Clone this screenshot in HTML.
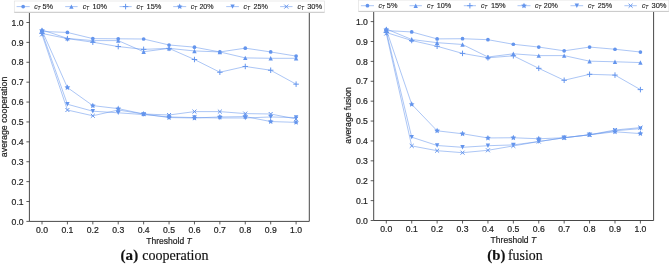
<!DOCTYPE html>
<html><head><meta charset="utf-8"><style>
html,body{margin:0;padding:0;background:#fff;width:669px;height:264px;overflow:hidden;font-family:"Liberation Sans",sans-serif;}
svg{display:block;will-change:transform;}
</style></head><body>
<svg width="669" height="264" viewBox="0 0 669 264"><rect width="669" height="264" fill="#fff"/><g transform="translate(0,0)">
<path d="M29.4 12.5V221.4H309.3V12.5" fill="none" stroke="#333" stroke-width="0.9"/>
<path d="M42.00 221.4v3.0M29.4 221.40h-3.0M67.41 221.4v3.0M29.4 201.51h-3.0M92.82 221.4v3.0M29.4 181.62h-3.0M118.23 221.4v3.0M29.4 161.73h-3.0M143.64 221.4v3.0M29.4 141.84h-3.0M169.05 221.4v3.0M29.4 121.95h-3.0M194.46 221.4v3.0M29.4 102.06h-3.0M219.87 221.4v3.0M29.4 82.17h-3.0M245.28 221.4v3.0M29.4 62.28h-3.0M270.69 221.4v3.0M29.4 42.39h-3.0M296.10 221.4v3.0M29.4 22.50h-3.0" stroke="#333" stroke-width="0.8" fill="none"/>
<g font-family="Liberation Sans, sans-serif" font-size="8.7" fill="#222" stroke="#222" stroke-width="0.2">
<text x="42.00" y="232.70" text-anchor="middle" textLength="12" lengthAdjust="spacingAndGlyphs">0.0</text>
<text x="23.60" y="224.55" text-anchor="end" textLength="12" lengthAdjust="spacingAndGlyphs">0.0</text>
<text x="67.41" y="232.70" text-anchor="middle" textLength="12" lengthAdjust="spacingAndGlyphs">0.1</text>
<text x="23.60" y="204.66" text-anchor="end" textLength="12" lengthAdjust="spacingAndGlyphs">0.1</text>
<text x="92.82" y="232.70" text-anchor="middle" textLength="12" lengthAdjust="spacingAndGlyphs">0.2</text>
<text x="23.60" y="184.77" text-anchor="end" textLength="12" lengthAdjust="spacingAndGlyphs">0.2</text>
<text x="118.23" y="232.70" text-anchor="middle" textLength="12" lengthAdjust="spacingAndGlyphs">0.3</text>
<text x="23.60" y="164.88" text-anchor="end" textLength="12" lengthAdjust="spacingAndGlyphs">0.3</text>
<text x="143.64" y="232.70" text-anchor="middle" textLength="12" lengthAdjust="spacingAndGlyphs">0.4</text>
<text x="23.60" y="144.99" text-anchor="end" textLength="12" lengthAdjust="spacingAndGlyphs">0.4</text>
<text x="169.05" y="232.70" text-anchor="middle" textLength="12" lengthAdjust="spacingAndGlyphs">0.5</text>
<text x="23.60" y="125.10" text-anchor="end" textLength="12" lengthAdjust="spacingAndGlyphs">0.5</text>
<text x="194.46" y="232.70" text-anchor="middle" textLength="12" lengthAdjust="spacingAndGlyphs">0.6</text>
<text x="23.60" y="105.21" text-anchor="end" textLength="12" lengthAdjust="spacingAndGlyphs">0.6</text>
<text x="219.87" y="232.70" text-anchor="middle" textLength="12" lengthAdjust="spacingAndGlyphs">0.7</text>
<text x="23.60" y="85.32" text-anchor="end" textLength="12" lengthAdjust="spacingAndGlyphs">0.7</text>
<text x="245.28" y="232.70" text-anchor="middle" textLength="12" lengthAdjust="spacingAndGlyphs">0.8</text>
<text x="23.60" y="65.43" text-anchor="end" textLength="12" lengthAdjust="spacingAndGlyphs">0.8</text>
<text x="270.69" y="232.70" text-anchor="middle" textLength="12" lengthAdjust="spacingAndGlyphs">0.9</text>
<text x="23.60" y="45.54" text-anchor="end" textLength="12" lengthAdjust="spacingAndGlyphs">0.9</text>
<text x="296.10" y="232.70" text-anchor="middle" textLength="12" lengthAdjust="spacingAndGlyphs">1.0</text>
<text x="23.60" y="25.65" text-anchor="end" textLength="12" lengthAdjust="spacingAndGlyphs">1.0</text>
</g>
<text x="169.05" y="243.8" text-anchor="middle" font-family="Liberation Sans, sans-serif" font-size="8.6" fill="#222" stroke="#222" stroke-width="0.2" textLength="45.5" lengthAdjust="spacingAndGlyphs">Threshold <tspan font-style="italic">T</tspan></text>
<text transform="translate(6.85,116.9) rotate(-90)" text-anchor="middle" font-family="Liberation Sans, sans-serif" font-size="8.4" fill="#222" stroke="#222" stroke-width="0.2" textLength="80.5" lengthAdjust="spacingAndGlyphs">average cooperation</text>
<polyline points="42.00,31.45 67.41,32.45 92.82,38.61 118.23,38.81 143.64,39.01 169.05,44.98 194.46,47.16 219.87,51.94 245.28,48.16 270.69,51.94 296.10,56.11" fill="none" stroke="#6495ed" stroke-width="0.9" stroke-opacity="0.6"/>
<circle cx="42.00" cy="31.45" r="1.85" fill="#6495ed"/>
<circle cx="67.41" cy="32.45" r="1.85" fill="#6495ed"/>
<circle cx="92.82" cy="38.61" r="1.85" fill="#6495ed"/>
<circle cx="118.23" cy="38.81" r="1.85" fill="#6495ed"/>
<circle cx="143.64" cy="39.01" r="1.85" fill="#6495ed"/>
<circle cx="169.05" cy="44.98" r="1.85" fill="#6495ed"/>
<circle cx="194.46" cy="47.16" r="1.85" fill="#6495ed"/>
<circle cx="219.87" cy="51.94" r="1.85" fill="#6495ed"/>
<circle cx="245.28" cy="48.16" r="1.85" fill="#6495ed"/>
<circle cx="270.69" cy="51.94" r="1.85" fill="#6495ed"/>
<circle cx="296.10" cy="56.11" r="1.85" fill="#6495ed"/>
<polyline points="42.00,29.86 67.41,38.41 92.82,40.60 118.23,40.60 143.64,51.74 169.05,48.36 194.46,50.94 219.87,51.94 245.28,57.90 270.69,58.30 296.10,58.30" fill="none" stroke="#6495ed" stroke-width="0.9" stroke-opacity="0.6"/>
<path d="M42.00 27.66L39.80 32.06L44.20 32.06Z" fill="#6495ed"/>
<path d="M67.41 36.21L65.21 40.61L69.61 40.61Z" fill="#6495ed"/>
<path d="M92.82 38.40L90.62 42.80L95.02 42.80Z" fill="#6495ed"/>
<path d="M118.23 38.40L116.03 42.80L120.43 42.80Z" fill="#6495ed"/>
<path d="M143.64 49.54L141.44 53.94L145.84 53.94Z" fill="#6495ed"/>
<path d="M169.05 46.16L166.85 50.56L171.25 50.56Z" fill="#6495ed"/>
<path d="M194.46 48.74L192.26 53.14L196.66 53.14Z" fill="#6495ed"/>
<path d="M219.87 49.74L217.67 54.14L222.07 54.14Z" fill="#6495ed"/>
<path d="M245.28 55.70L243.08 60.10L247.48 60.10Z" fill="#6495ed"/>
<path d="M270.69 56.10L268.49 60.50L272.89 60.50Z" fill="#6495ed"/>
<path d="M296.10 56.10L293.90 60.50L298.30 60.50Z" fill="#6495ed"/>
<polyline points="42.00,33.44 67.41,38.61 92.82,42.19 118.23,46.57 143.64,49.35 169.05,48.36 194.46,59.50 219.87,72.22 245.28,66.46 270.69,70.24 296.10,84.16" fill="none" stroke="#6495ed" stroke-width="0.9" stroke-opacity="0.6"/>
<path d="M39.25 33.44H44.75M42.00 30.69V36.19" stroke="#6495ed" stroke-width="1" fill="none"/>
<path d="M64.66 38.61H70.16M67.41 35.86V41.36" stroke="#6495ed" stroke-width="1" fill="none"/>
<path d="M90.07 42.19H95.57M92.82 39.44V44.94" stroke="#6495ed" stroke-width="1" fill="none"/>
<path d="M115.48 46.57H120.98M118.23 43.82V49.32" stroke="#6495ed" stroke-width="1" fill="none"/>
<path d="M140.89 49.35H146.39M143.64 46.60V52.10" stroke="#6495ed" stroke-width="1" fill="none"/>
<path d="M166.30 48.36H171.80M169.05 45.61V51.11" stroke="#6495ed" stroke-width="1" fill="none"/>
<path d="M191.71 59.50H197.21M194.46 56.75V62.25" stroke="#6495ed" stroke-width="1" fill="none"/>
<path d="M217.12 72.22H222.62M219.87 69.47V74.97" stroke="#6495ed" stroke-width="1" fill="none"/>
<path d="M242.53 66.46H248.03M245.28 63.71V69.21" stroke="#6495ed" stroke-width="1" fill="none"/>
<path d="M267.94 70.24H273.44M270.69 67.49V72.99" stroke="#6495ed" stroke-width="1" fill="none"/>
<path d="M293.35 84.16H298.85M296.10 81.41V86.91" stroke="#6495ed" stroke-width="1" fill="none"/>
<polyline points="42.00,30.46 67.41,87.54 92.82,105.64 118.23,108.62 143.64,113.99 169.05,117.57 194.46,117.97 219.87,116.98 245.28,116.58 270.69,121.55 296.10,122.35" fill="none" stroke="#6495ed" stroke-width="0.9" stroke-opacity="0.6"/>
<path d="M42.00 27.46L42.88 29.24L44.85 29.53L43.43 30.92L43.76 32.88L42.00 31.96L40.24 32.88L40.57 30.92L39.15 29.53L41.12 29.24Z" fill="#6495ed"/>
<path d="M67.41 84.54L68.29 86.33L70.26 86.61L68.84 88.00L69.17 89.97L67.41 89.04L65.65 89.97L65.98 88.00L64.56 86.61L66.53 86.33Z" fill="#6495ed"/>
<path d="M92.82 102.64L93.70 104.43L95.67 104.71L94.25 106.10L94.58 108.07L92.82 107.14L91.06 108.07L91.39 106.10L89.97 104.71L91.94 104.43Z" fill="#6495ed"/>
<path d="M118.23 105.62L119.11 107.41L121.08 107.70L119.66 109.09L119.99 111.05L118.23 110.12L116.47 111.05L116.80 109.09L115.38 107.70L117.35 107.41Z" fill="#6495ed"/>
<path d="M143.64 110.99L144.52 112.78L146.49 113.07L145.07 114.46L145.40 116.42L143.64 115.49L141.88 116.42L142.21 114.46L140.79 113.07L142.76 112.78Z" fill="#6495ed"/>
<path d="M169.05 114.57L169.93 116.36L171.90 116.65L170.48 118.04L170.81 120.00L169.05 119.07L167.29 120.00L167.62 118.04L166.20 116.65L168.17 116.36Z" fill="#6495ed"/>
<path d="M194.46 114.97L195.34 116.76L197.31 117.04L195.89 118.44L196.22 120.40L194.46 119.47L192.70 120.40L193.03 118.44L191.61 117.04L193.58 116.76Z" fill="#6495ed"/>
<path d="M219.87 113.98L220.75 115.76L222.72 116.05L221.30 117.44L221.63 119.40L219.87 118.48L218.11 119.40L218.44 117.44L217.02 116.05L218.99 115.76Z" fill="#6495ed"/>
<path d="M245.28 113.58L246.16 115.37L248.13 115.65L246.71 117.04L247.04 119.01L245.28 118.08L243.52 119.01L243.85 117.04L242.43 115.65L244.40 115.37Z" fill="#6495ed"/>
<path d="M270.69 118.55L271.57 120.34L273.54 120.63L272.12 122.02L272.45 123.98L270.69 123.05L268.93 123.98L269.26 122.02L267.84 120.63L269.81 120.34Z" fill="#6495ed"/>
<path d="M296.10 119.35L296.98 121.13L298.95 121.42L297.53 122.81L297.86 124.77L296.10 123.85L294.34 124.77L294.67 122.81L293.25 121.42L295.22 121.13Z" fill="#6495ed"/>
<polyline points="42.00,32.45 67.41,104.25 92.82,111.21 118.23,112.80 143.64,114.59 169.05,116.98 194.46,117.57 219.87,117.97 245.28,117.97 270.69,116.98 296.10,117.57" fill="none" stroke="#6495ed" stroke-width="0.9" stroke-opacity="0.6"/>
<path d="M42.00 34.65L39.80 30.25L44.20 30.25Z" fill="#6495ed"/>
<path d="M67.41 106.45L65.21 102.05L69.61 102.05Z" fill="#6495ed"/>
<path d="M92.82 113.41L90.62 109.01L95.02 109.01Z" fill="#6495ed"/>
<path d="M118.23 115.00L116.03 110.60L120.43 110.60Z" fill="#6495ed"/>
<path d="M143.64 116.79L141.44 112.39L145.84 112.39Z" fill="#6495ed"/>
<path d="M169.05 119.18L166.85 114.78L171.25 114.78Z" fill="#6495ed"/>
<path d="M194.46 119.77L192.26 115.37L196.66 115.37Z" fill="#6495ed"/>
<path d="M219.87 120.17L217.67 115.77L222.07 115.77Z" fill="#6495ed"/>
<path d="M245.28 120.17L243.08 115.77L247.48 115.77Z" fill="#6495ed"/>
<path d="M270.69 119.18L268.49 114.78L272.89 114.78Z" fill="#6495ed"/>
<path d="M296.10 119.77L293.90 115.37L298.30 115.37Z" fill="#6495ed"/>
<polyline points="42.00,34.43 67.41,110.02 92.82,115.78 118.23,110.02 143.64,113.99 169.05,114.99 194.46,111.61 219.87,111.61 245.28,113.60 270.69,113.99 296.10,118.97" fill="none" stroke="#6495ed" stroke-width="0.9" stroke-opacity="0.6"/>
<path d="M40.02 32.45L43.98 36.41M40.02 36.41L43.98 32.45" stroke="#6495ed" stroke-width="1" fill="none"/>
<path d="M65.43 108.04L69.39 112.00M65.43 112.00L69.39 108.04" stroke="#6495ed" stroke-width="1" fill="none"/>
<path d="M90.84 113.80L94.80 117.76M90.84 117.76L94.80 113.80" stroke="#6495ed" stroke-width="1" fill="none"/>
<path d="M116.25 108.04L120.21 112.00M116.25 112.00L120.21 108.04" stroke="#6495ed" stroke-width="1" fill="none"/>
<path d="M141.66 112.01L145.62 115.97M141.66 115.97L145.62 112.01" stroke="#6495ed" stroke-width="1" fill="none"/>
<path d="M167.07 113.01L171.03 116.97M167.07 116.97L171.03 113.01" stroke="#6495ed" stroke-width="1" fill="none"/>
<path d="M192.48 109.63L196.44 113.59M192.48 113.59L196.44 109.63" stroke="#6495ed" stroke-width="1" fill="none"/>
<path d="M217.89 109.63L221.85 113.59M217.89 113.59L221.85 109.63" stroke="#6495ed" stroke-width="1" fill="none"/>
<path d="M243.30 111.62L247.26 115.58M243.30 115.58L247.26 111.62" stroke="#6495ed" stroke-width="1" fill="none"/>
<path d="M268.71 112.01L272.67 115.97M268.71 115.97L272.67 112.01" stroke="#6495ed" stroke-width="1" fill="none"/>
<path d="M294.12 116.99L298.08 120.95M294.12 120.95L298.08 116.99" stroke="#6495ed" stroke-width="1" fill="none"/>
<rect x="14.3" y="1.0" width="310.2" height="11.3" fill="#fff" fill-opacity="0.85" stroke="#e2e2e2" stroke-width="0.7"/>
<path d="M14.3 12.3H324.5" stroke="#c4c4c4" stroke-width="0.9"/>
<path d="M16.6 6.6H29.7" stroke="#6495ed" stroke-width="0.9" stroke-opacity="0.6"/>
<circle cx="23.15" cy="6.60" r="1.85" fill="#6495ed"/>
<text x="34.2" y="8.8" font-family="Liberation Sans, sans-serif" font-size="7.0" fill="#222" stroke="#222" stroke-width="0.12" font-style="italic">c</text>
<text x="37.50" y="9.5" font-family="Liberation Sans, sans-serif" font-size="4.9" fill="#222" stroke="#222" stroke-width="0.1" font-style="italic">T</text>
<text x="42.5" y="8.9" font-family="Liberation Sans, sans-serif" font-size="6.8" fill="#222" stroke="#222" stroke-width="0.12" textLength="10.6" lengthAdjust="spacingAndGlyphs">5%</text>
<path d="M65.2 6.6H77.6" stroke="#6495ed" stroke-width="0.9" stroke-opacity="0.6"/>
<path d="M71.40 4.40L69.20 8.80L73.60 8.80Z" fill="#6495ed"/>
<text x="82.8" y="8.8" font-family="Liberation Sans, sans-serif" font-size="7.0" fill="#222" stroke="#222" stroke-width="0.12" font-style="italic">c</text>
<text x="86.10" y="9.5" font-family="Liberation Sans, sans-serif" font-size="4.9" fill="#222" stroke="#222" stroke-width="0.1" font-style="italic">T</text>
<text x="92.4" y="8.9" font-family="Liberation Sans, sans-serif" font-size="6.8" fill="#222" stroke="#222" stroke-width="0.12" textLength="14.6" lengthAdjust="spacingAndGlyphs">10%</text>
<path d="M119.5 6.6H131.7" stroke="#6495ed" stroke-width="0.9" stroke-opacity="0.6"/>
<path d="M122.85 6.60H128.35M125.60 3.85V9.35" stroke="#6495ed" stroke-width="1" fill="none"/>
<text x="136.6" y="8.8" font-family="Liberation Sans, sans-serif" font-size="7.0" fill="#222" stroke="#222" stroke-width="0.12" font-style="italic">c</text>
<text x="139.90" y="9.5" font-family="Liberation Sans, sans-serif" font-size="4.9" fill="#222" stroke="#222" stroke-width="0.1" font-style="italic">T</text>
<text x="146.6" y="8.9" font-family="Liberation Sans, sans-serif" font-size="6.8" fill="#222" stroke="#222" stroke-width="0.12" textLength="14.8" lengthAdjust="spacingAndGlyphs">15%</text>
<path d="M173.2 6.6H186.2" stroke="#6495ed" stroke-width="0.9" stroke-opacity="0.6"/>
<path d="M179.70 3.60L180.58 5.39L182.55 5.67L181.13 7.06L181.46 9.03L179.70 8.10L177.94 9.03L178.27 7.06L176.85 5.67L178.82 5.39Z" fill="#6495ed"/>
<text x="190.7" y="8.8" font-family="Liberation Sans, sans-serif" font-size="7.0" fill="#222" stroke="#222" stroke-width="0.12" font-style="italic">c</text>
<text x="194.00" y="9.5" font-family="Liberation Sans, sans-serif" font-size="4.9" fill="#222" stroke="#222" stroke-width="0.1" font-style="italic">T</text>
<text x="199.4" y="8.9" font-family="Liberation Sans, sans-serif" font-size="6.8" fill="#222" stroke="#222" stroke-width="0.12" textLength="14.2" lengthAdjust="spacingAndGlyphs">20%</text>
<path d="M226.2 6.6H238.9" stroke="#6495ed" stroke-width="0.9" stroke-opacity="0.6"/>
<path d="M232.55 8.80L230.35 4.40L234.75 4.40Z" fill="#6495ed"/>
<text x="243.6" y="8.8" font-family="Liberation Sans, sans-serif" font-size="7.0" fill="#222" stroke="#222" stroke-width="0.12" font-style="italic">c</text>
<text x="246.90" y="9.5" font-family="Liberation Sans, sans-serif" font-size="4.9" fill="#222" stroke="#222" stroke-width="0.1" font-style="italic">T</text>
<text x="253.4" y="8.9" font-family="Liberation Sans, sans-serif" font-size="6.8" fill="#222" stroke="#222" stroke-width="0.12" textLength="14.4" lengthAdjust="spacingAndGlyphs">25%</text>
<path d="M280.1 6.6H292.5" stroke="#6495ed" stroke-width="0.9" stroke-opacity="0.6"/>
<path d="M284.32 4.62L288.28 8.58M284.32 8.58L288.28 4.62" stroke="#6495ed" stroke-width="1" fill="none"/>
<text x="297.6" y="8.8" font-family="Liberation Sans, sans-serif" font-size="7.0" fill="#222" stroke="#222" stroke-width="0.12" font-style="italic">c</text>
<text x="300.90" y="9.5" font-family="Liberation Sans, sans-serif" font-size="4.9" fill="#222" stroke="#222" stroke-width="0.1" font-style="italic">T</text>
<text x="307.2" y="8.9" font-family="Liberation Sans, sans-serif" font-size="6.8" fill="#222" stroke="#222" stroke-width="0.12" textLength="15.0" lengthAdjust="spacingAndGlyphs">30%</text>
</g><g transform="translate(344.3,-0.9)">
<path d="M29.4 12.5V221.4H309.3V12.5" fill="none" stroke="#333" stroke-width="0.9"/>
<path d="M42.00 221.4v3.0M29.4 221.40h-3.0M67.41 221.4v3.0M29.4 201.51h-3.0M92.82 221.4v3.0M29.4 181.62h-3.0M118.23 221.4v3.0M29.4 161.73h-3.0M143.64 221.4v3.0M29.4 141.84h-3.0M169.05 221.4v3.0M29.4 121.95h-3.0M194.46 221.4v3.0M29.4 102.06h-3.0M219.87 221.4v3.0M29.4 82.17h-3.0M245.28 221.4v3.0M29.4 62.28h-3.0M270.69 221.4v3.0M29.4 42.39h-3.0M296.10 221.4v3.0M29.4 22.50h-3.0" stroke="#333" stroke-width="0.8" fill="none"/>
<g font-family="Liberation Sans, sans-serif" font-size="8.7" fill="#222" stroke="#222" stroke-width="0.2">
<text x="42.00" y="232.70" text-anchor="middle" textLength="12" lengthAdjust="spacingAndGlyphs">0.0</text>
<text x="23.60" y="224.55" text-anchor="end" textLength="12" lengthAdjust="spacingAndGlyphs">0.0</text>
<text x="67.41" y="232.70" text-anchor="middle" textLength="12" lengthAdjust="spacingAndGlyphs">0.1</text>
<text x="23.60" y="204.66" text-anchor="end" textLength="12" lengthAdjust="spacingAndGlyphs">0.1</text>
<text x="92.82" y="232.70" text-anchor="middle" textLength="12" lengthAdjust="spacingAndGlyphs">0.2</text>
<text x="23.60" y="184.77" text-anchor="end" textLength="12" lengthAdjust="spacingAndGlyphs">0.2</text>
<text x="118.23" y="232.70" text-anchor="middle" textLength="12" lengthAdjust="spacingAndGlyphs">0.3</text>
<text x="23.60" y="164.88" text-anchor="end" textLength="12" lengthAdjust="spacingAndGlyphs">0.3</text>
<text x="143.64" y="232.70" text-anchor="middle" textLength="12" lengthAdjust="spacingAndGlyphs">0.4</text>
<text x="23.60" y="144.99" text-anchor="end" textLength="12" lengthAdjust="spacingAndGlyphs">0.4</text>
<text x="169.05" y="232.70" text-anchor="middle" textLength="12" lengthAdjust="spacingAndGlyphs">0.5</text>
<text x="23.60" y="125.10" text-anchor="end" textLength="12" lengthAdjust="spacingAndGlyphs">0.5</text>
<text x="194.46" y="232.70" text-anchor="middle" textLength="12" lengthAdjust="spacingAndGlyphs">0.6</text>
<text x="23.60" y="105.21" text-anchor="end" textLength="12" lengthAdjust="spacingAndGlyphs">0.6</text>
<text x="219.87" y="232.70" text-anchor="middle" textLength="12" lengthAdjust="spacingAndGlyphs">0.7</text>
<text x="23.60" y="85.32" text-anchor="end" textLength="12" lengthAdjust="spacingAndGlyphs">0.7</text>
<text x="245.28" y="232.70" text-anchor="middle" textLength="12" lengthAdjust="spacingAndGlyphs">0.8</text>
<text x="23.60" y="65.43" text-anchor="end" textLength="12" lengthAdjust="spacingAndGlyphs">0.8</text>
<text x="270.69" y="232.70" text-anchor="middle" textLength="12" lengthAdjust="spacingAndGlyphs">0.9</text>
<text x="23.60" y="45.54" text-anchor="end" textLength="12" lengthAdjust="spacingAndGlyphs">0.9</text>
<text x="296.10" y="232.70" text-anchor="middle" textLength="12" lengthAdjust="spacingAndGlyphs">1.0</text>
<text x="23.60" y="25.65" text-anchor="end" textLength="12" lengthAdjust="spacingAndGlyphs">1.0</text>
</g>
<text x="169.05" y="243.8" text-anchor="middle" font-family="Liberation Sans, sans-serif" font-size="8.6" fill="#222" stroke="#222" stroke-width="0.2" textLength="45.5" lengthAdjust="spacingAndGlyphs">Threshold <tspan font-style="italic">T</tspan></text>
<text transform="translate(6.4,116.3) rotate(-90)" text-anchor="middle" font-family="Liberation Sans, sans-serif" font-size="8.4" fill="#222" stroke="#222" stroke-width="0.2" textLength="56.5" lengthAdjust="spacingAndGlyphs">average fusion</text>
<polyline points="42.00,31.45 67.41,32.84 92.82,39.80 118.23,39.61 143.64,40.60 169.05,45.17 194.46,47.96 219.87,51.74 245.28,47.96 270.69,50.15 296.10,52.93" fill="none" stroke="#6495ed" stroke-width="0.9" stroke-opacity="0.6"/>
<circle cx="42.00" cy="31.45" r="1.85" fill="#6495ed"/>
<circle cx="67.41" cy="32.84" r="1.85" fill="#6495ed"/>
<circle cx="92.82" cy="39.80" r="1.85" fill="#6495ed"/>
<circle cx="118.23" cy="39.61" r="1.85" fill="#6495ed"/>
<circle cx="143.64" cy="40.60" r="1.85" fill="#6495ed"/>
<circle cx="169.05" cy="45.17" r="1.85" fill="#6495ed"/>
<circle cx="194.46" cy="47.96" r="1.85" fill="#6495ed"/>
<circle cx="219.87" cy="51.74" r="1.85" fill="#6495ed"/>
<circle cx="245.28" cy="47.96" r="1.85" fill="#6495ed"/>
<circle cx="270.69" cy="50.15" r="1.85" fill="#6495ed"/>
<circle cx="296.10" cy="52.93" r="1.85" fill="#6495ed"/>
<polyline points="42.00,29.86 67.41,40.40 92.82,43.58 118.23,45.37 143.64,57.90 169.05,54.72 194.46,56.51 219.87,56.51 245.28,62.08 270.69,62.68 296.10,63.47" fill="none" stroke="#6495ed" stroke-width="0.9" stroke-opacity="0.6"/>
<path d="M42.00 27.66L39.80 32.06L44.20 32.06Z" fill="#6495ed"/>
<path d="M67.41 38.20L65.21 42.60L69.61 42.60Z" fill="#6495ed"/>
<path d="M92.82 41.38L90.62 45.78L95.02 45.78Z" fill="#6495ed"/>
<path d="M118.23 43.17L116.03 47.57L120.43 47.57Z" fill="#6495ed"/>
<path d="M143.64 55.70L141.44 60.10L145.84 60.10Z" fill="#6495ed"/>
<path d="M169.05 52.52L166.85 56.92L171.25 56.92Z" fill="#6495ed"/>
<path d="M194.46 54.31L192.26 58.71L196.66 58.71Z" fill="#6495ed"/>
<path d="M219.87 54.31L217.67 58.71L222.07 58.71Z" fill="#6495ed"/>
<path d="M245.28 59.88L243.08 64.28L247.48 64.28Z" fill="#6495ed"/>
<path d="M270.69 60.48L268.49 64.88L272.89 64.88Z" fill="#6495ed"/>
<path d="M296.10 61.27L293.90 65.67L298.30 65.67Z" fill="#6495ed"/>
<polyline points="42.00,33.44 67.41,41.40 92.82,47.16 118.23,54.32 143.64,58.70 169.05,56.71 194.46,69.24 219.87,81.18 245.28,75.21 270.69,76.00 296.10,90.52" fill="none" stroke="#6495ed" stroke-width="0.9" stroke-opacity="0.6"/>
<path d="M39.25 33.44H44.75M42.00 30.69V36.19" stroke="#6495ed" stroke-width="1" fill="none"/>
<path d="M64.66 41.40H70.16M67.41 38.65V44.15" stroke="#6495ed" stroke-width="1" fill="none"/>
<path d="M90.07 47.16H95.57M92.82 44.41V49.91" stroke="#6495ed" stroke-width="1" fill="none"/>
<path d="M115.48 54.32H120.98M118.23 51.57V57.07" stroke="#6495ed" stroke-width="1" fill="none"/>
<path d="M140.89 58.70H146.39M143.64 55.95V61.45" stroke="#6495ed" stroke-width="1" fill="none"/>
<path d="M166.30 56.71H171.80M169.05 53.96V59.46" stroke="#6495ed" stroke-width="1" fill="none"/>
<path d="M191.71 69.24H197.21M194.46 66.49V71.99" stroke="#6495ed" stroke-width="1" fill="none"/>
<path d="M217.12 81.18H222.62M219.87 78.43V83.93" stroke="#6495ed" stroke-width="1" fill="none"/>
<path d="M242.53 75.21H248.03M245.28 72.46V77.96" stroke="#6495ed" stroke-width="1" fill="none"/>
<path d="M267.94 76.00H273.44M270.69 73.25V78.75" stroke="#6495ed" stroke-width="1" fill="none"/>
<path d="M293.35 90.52H298.85M296.10 87.77V93.27" stroke="#6495ed" stroke-width="1" fill="none"/>
<polyline points="42.00,30.46 67.41,105.24 92.82,131.70 118.23,134.68 143.64,138.86 169.05,138.66 194.46,139.65 219.87,138.66 245.28,135.67 270.69,132.69 296.10,134.48" fill="none" stroke="#6495ed" stroke-width="0.9" stroke-opacity="0.6"/>
<path d="M42.00 27.46L42.88 29.24L44.85 29.53L43.43 30.92L43.76 32.88L42.00 31.96L40.24 32.88L40.57 30.92L39.15 29.53L41.12 29.24Z" fill="#6495ed"/>
<path d="M67.41 102.24L68.29 104.03L70.26 104.32L68.84 105.71L69.17 107.67L67.41 106.74L65.65 107.67L65.98 105.71L64.56 104.32L66.53 104.03Z" fill="#6495ed"/>
<path d="M92.82 128.70L93.70 130.48L95.67 130.77L94.25 132.16L94.58 134.12L92.82 133.20L91.06 134.12L91.39 132.16L89.97 130.77L91.94 130.48Z" fill="#6495ed"/>
<path d="M118.23 131.68L119.11 133.47L121.08 133.75L119.66 135.14L119.99 137.11L118.23 136.18L116.47 137.11L116.80 135.14L115.38 133.75L117.35 133.47Z" fill="#6495ed"/>
<path d="M143.64 135.86L144.52 137.64L146.49 137.93L145.07 139.32L145.40 141.28L143.64 140.36L141.88 141.28L142.21 139.32L140.79 137.93L142.76 137.64Z" fill="#6495ed"/>
<path d="M169.05 135.66L169.93 137.44L171.90 137.73L170.48 139.12L170.81 141.08L169.05 140.16L167.29 141.08L167.62 139.12L166.20 137.73L168.17 137.44Z" fill="#6495ed"/>
<path d="M194.46 136.65L195.34 138.44L197.31 138.73L195.89 140.12L196.22 142.08L194.46 141.15L192.70 142.08L193.03 140.12L191.61 138.73L193.58 138.44Z" fill="#6495ed"/>
<path d="M219.87 135.66L220.75 137.44L222.72 137.73L221.30 139.12L221.63 141.08L219.87 140.16L218.11 141.08L218.44 139.12L217.02 137.73L218.99 137.44Z" fill="#6495ed"/>
<path d="M245.28 132.67L246.16 134.46L248.13 134.75L246.71 136.14L247.04 138.10L245.28 137.17L243.52 138.10L243.85 136.14L242.43 134.75L244.40 134.46Z" fill="#6495ed"/>
<path d="M270.69 129.69L271.57 131.48L273.54 131.76L272.12 133.15L272.45 135.12L270.69 134.19L268.93 135.12L269.26 133.15L267.84 131.76L269.81 131.48Z" fill="#6495ed"/>
<path d="M296.10 131.48L296.98 133.27L298.95 133.55L297.53 134.94L297.86 136.91L296.10 135.98L294.34 136.91L294.67 134.94L293.25 133.55L295.22 133.27Z" fill="#6495ed"/>
<polyline points="42.00,32.45 67.41,138.06 92.82,146.41 118.23,148.20 143.64,146.61 169.05,145.82 194.46,142.44 219.87,138.66 245.28,135.67 270.69,131.70 296.10,129.51" fill="none" stroke="#6495ed" stroke-width="0.9" stroke-opacity="0.6"/>
<path d="M42.00 34.65L39.80 30.25L44.20 30.25Z" fill="#6495ed"/>
<path d="M67.41 140.26L65.21 135.86L69.61 135.86Z" fill="#6495ed"/>
<path d="M92.82 148.61L90.62 144.21L95.02 144.21Z" fill="#6495ed"/>
<path d="M118.23 150.40L116.03 146.00L120.43 146.00Z" fill="#6495ed"/>
<path d="M143.64 148.81L141.44 144.41L145.84 144.41Z" fill="#6495ed"/>
<path d="M169.05 148.02L166.85 143.62L171.25 143.62Z" fill="#6495ed"/>
<path d="M194.46 144.64L192.26 140.24L196.66 140.24Z" fill="#6495ed"/>
<path d="M219.87 140.86L217.67 136.46L222.07 136.46Z" fill="#6495ed"/>
<path d="M245.28 137.87L243.08 133.47L247.48 133.47Z" fill="#6495ed"/>
<path d="M270.69 133.90L268.49 129.50L272.89 129.50Z" fill="#6495ed"/>
<path d="M296.10 131.71L293.90 127.31L298.30 127.31Z" fill="#6495ed"/>
<polyline points="42.00,34.43 67.41,146.81 92.82,151.59 118.23,153.58 143.64,151.19 169.05,146.81 194.46,142.44 219.87,138.66 245.28,135.67 270.69,130.90 296.10,128.51" fill="none" stroke="#6495ed" stroke-width="0.9" stroke-opacity="0.6"/>
<path d="M40.02 32.45L43.98 36.41M40.02 36.41L43.98 32.45" stroke="#6495ed" stroke-width="1" fill="none"/>
<path d="M65.43 144.83L69.39 148.79M65.43 148.79L69.39 144.83" stroke="#6495ed" stroke-width="1" fill="none"/>
<path d="M90.84 149.61L94.80 153.57M90.84 153.57L94.80 149.61" stroke="#6495ed" stroke-width="1" fill="none"/>
<path d="M116.25 151.60L120.21 155.56M116.25 155.56L120.21 151.60" stroke="#6495ed" stroke-width="1" fill="none"/>
<path d="M141.66 149.21L145.62 153.17M141.66 153.17L145.62 149.21" stroke="#6495ed" stroke-width="1" fill="none"/>
<path d="M167.07 144.83L171.03 148.79M167.07 148.79L171.03 144.83" stroke="#6495ed" stroke-width="1" fill="none"/>
<path d="M192.48 140.46L196.44 144.42M192.48 144.42L196.44 140.46" stroke="#6495ed" stroke-width="1" fill="none"/>
<path d="M217.89 136.68L221.85 140.64M217.89 140.64L221.85 136.68" stroke="#6495ed" stroke-width="1" fill="none"/>
<path d="M243.30 133.69L247.26 137.65M243.30 137.65L247.26 133.69" stroke="#6495ed" stroke-width="1" fill="none"/>
<path d="M268.71 128.92L272.67 132.88M268.71 132.88L272.67 128.92" stroke="#6495ed" stroke-width="1" fill="none"/>
<path d="M294.12 126.53L298.08 130.49M294.12 130.49L298.08 126.53" stroke="#6495ed" stroke-width="1" fill="none"/>
<rect x="14.3" y="1.0" width="310.2" height="11.3" fill="#fff" fill-opacity="0.85" stroke="#e2e2e2" stroke-width="0.7"/>
<path d="M14.3 12.3H324.5" stroke="#c4c4c4" stroke-width="0.9"/>
<path d="M16.6 6.6H29.7" stroke="#6495ed" stroke-width="0.9" stroke-opacity="0.6"/>
<circle cx="23.15" cy="6.60" r="1.85" fill="#6495ed"/>
<text x="34.2" y="8.8" font-family="Liberation Sans, sans-serif" font-size="7.0" fill="#222" stroke="#222" stroke-width="0.12" font-style="italic">c</text>
<text x="37.50" y="9.5" font-family="Liberation Sans, sans-serif" font-size="4.9" fill="#222" stroke="#222" stroke-width="0.1" font-style="italic">T</text>
<text x="42.5" y="8.9" font-family="Liberation Sans, sans-serif" font-size="6.8" fill="#222" stroke="#222" stroke-width="0.12" textLength="10.6" lengthAdjust="spacingAndGlyphs">5%</text>
<path d="M65.2 6.6H77.6" stroke="#6495ed" stroke-width="0.9" stroke-opacity="0.6"/>
<path d="M71.40 4.40L69.20 8.80L73.60 8.80Z" fill="#6495ed"/>
<text x="82.8" y="8.8" font-family="Liberation Sans, sans-serif" font-size="7.0" fill="#222" stroke="#222" stroke-width="0.12" font-style="italic">c</text>
<text x="86.10" y="9.5" font-family="Liberation Sans, sans-serif" font-size="4.9" fill="#222" stroke="#222" stroke-width="0.1" font-style="italic">T</text>
<text x="92.4" y="8.9" font-family="Liberation Sans, sans-serif" font-size="6.8" fill="#222" stroke="#222" stroke-width="0.12" textLength="14.6" lengthAdjust="spacingAndGlyphs">10%</text>
<path d="M119.5 6.6H131.7" stroke="#6495ed" stroke-width="0.9" stroke-opacity="0.6"/>
<path d="M122.85 6.60H128.35M125.60 3.85V9.35" stroke="#6495ed" stroke-width="1" fill="none"/>
<text x="136.6" y="8.8" font-family="Liberation Sans, sans-serif" font-size="7.0" fill="#222" stroke="#222" stroke-width="0.12" font-style="italic">c</text>
<text x="139.90" y="9.5" font-family="Liberation Sans, sans-serif" font-size="4.9" fill="#222" stroke="#222" stroke-width="0.1" font-style="italic">T</text>
<text x="146.6" y="8.9" font-family="Liberation Sans, sans-serif" font-size="6.8" fill="#222" stroke="#222" stroke-width="0.12" textLength="14.8" lengthAdjust="spacingAndGlyphs">15%</text>
<path d="M173.2 6.6H186.2" stroke="#6495ed" stroke-width="0.9" stroke-opacity="0.6"/>
<path d="M179.70 3.60L180.58 5.39L182.55 5.67L181.13 7.06L181.46 9.03L179.70 8.10L177.94 9.03L178.27 7.06L176.85 5.67L178.82 5.39Z" fill="#6495ed"/>
<text x="190.7" y="8.8" font-family="Liberation Sans, sans-serif" font-size="7.0" fill="#222" stroke="#222" stroke-width="0.12" font-style="italic">c</text>
<text x="194.00" y="9.5" font-family="Liberation Sans, sans-serif" font-size="4.9" fill="#222" stroke="#222" stroke-width="0.1" font-style="italic">T</text>
<text x="199.4" y="8.9" font-family="Liberation Sans, sans-serif" font-size="6.8" fill="#222" stroke="#222" stroke-width="0.12" textLength="14.2" lengthAdjust="spacingAndGlyphs">20%</text>
<path d="M226.2 6.6H238.9" stroke="#6495ed" stroke-width="0.9" stroke-opacity="0.6"/>
<path d="M232.55 8.80L230.35 4.40L234.75 4.40Z" fill="#6495ed"/>
<text x="243.6" y="8.8" font-family="Liberation Sans, sans-serif" font-size="7.0" fill="#222" stroke="#222" stroke-width="0.12" font-style="italic">c</text>
<text x="246.90" y="9.5" font-family="Liberation Sans, sans-serif" font-size="4.9" fill="#222" stroke="#222" stroke-width="0.1" font-style="italic">T</text>
<text x="253.4" y="8.9" font-family="Liberation Sans, sans-serif" font-size="6.8" fill="#222" stroke="#222" stroke-width="0.12" textLength="14.4" lengthAdjust="spacingAndGlyphs">25%</text>
<path d="M280.1 6.6H292.5" stroke="#6495ed" stroke-width="0.9" stroke-opacity="0.6"/>
<path d="M284.32 4.62L288.28 8.58M284.32 8.58L288.28 4.62" stroke="#6495ed" stroke-width="1" fill="none"/>
<text x="297.6" y="8.8" font-family="Liberation Sans, sans-serif" font-size="7.0" fill="#222" stroke="#222" stroke-width="0.12" font-style="italic">c</text>
<text x="300.90" y="9.5" font-family="Liberation Sans, sans-serif" font-size="4.9" fill="#222" stroke="#222" stroke-width="0.1" font-style="italic">T</text>
<text x="307.2" y="8.9" font-family="Liberation Sans, sans-serif" font-size="6.8" fill="#222" stroke="#222" stroke-width="0.12" textLength="15.0" lengthAdjust="spacingAndGlyphs">30%</text>
</g><g font-family="Liberation Serif, serif" font-size="14.4" fill="#111" stroke="#111" stroke-width="0.15"><text x="120.6" y="260.1" font-weight="bold" textLength="17.6" lengthAdjust="spacingAndGlyphs">(a)</text><text x="142.2" y="260.1" textLength="66.4" lengthAdjust="spacingAndGlyphs">cooperation</text><text x="487.3" y="260.0" font-weight="bold" textLength="18.0" lengthAdjust="spacingAndGlyphs">(b)</text><text x="508.0" y="260.0" textLength="34.6" lengthAdjust="spacingAndGlyphs">fusion</text></g></svg>
</body></html>
